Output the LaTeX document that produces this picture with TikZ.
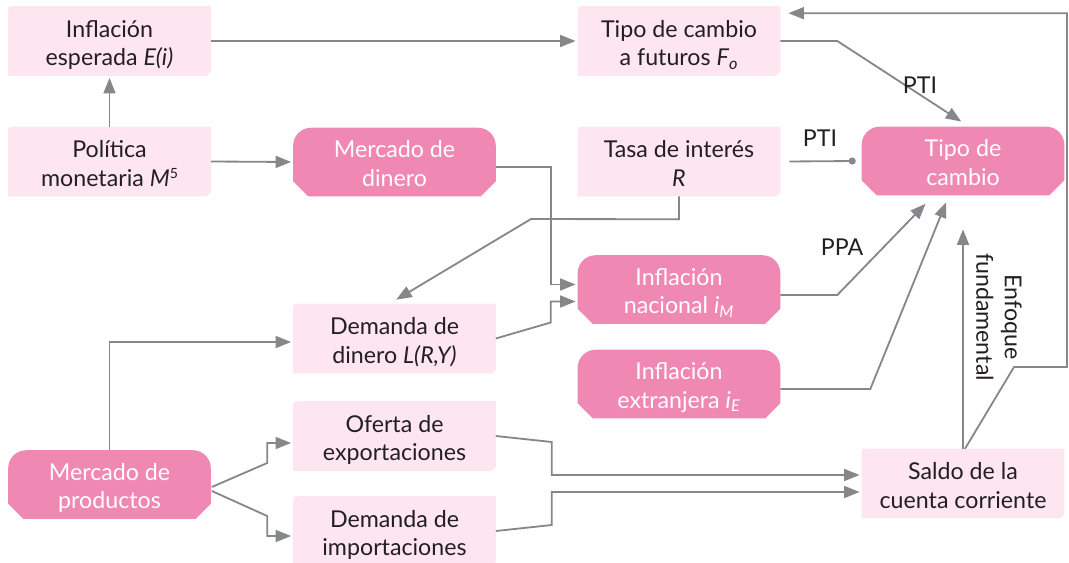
\documentclass[tikz,border=0pt]{standalone}
\usepackage{fontspec}
\setmainfont{Lato}
\usetikzlibrary{arrows.meta,calc,backgrounds}
\definecolor{lfill}{HTML}{FDE6EF}
\definecolor{dfill}{HTML}{F088B4}
\definecolor{lgray}{HTML}{86878A}
\definecolor{txt}{HTML}{231F20}
\newcommand\fsz{\fontsize{16.5}{20.3}\selectfont}
\newcommand\twol[3]{\raisebox{#1}[\height][\depth]{\begin{tabular}{@{}c@{}}#2\\#3\end{tabular}}}
\newcommand\supf{\raisebox{5.5pt}{\fontsize{10}{10}\selectfont 5}}
\newcommand\lightshape[1]{\fill[lfill] (#1.south west) -- ($(#1.north west)+(0,6)$) .. controls (#1.north west) .. ($(#1.north west)+(6,0)$) -- (#1.north east) -- ($(#1.south east)+(0,-4)$) -- ($(#1.south east)+(-4,0)$) -- cycle;}
\newcommand\darkshape[1]{\fill[dfill] ($(#1.south west)+(15,0)$) -- ($(#1.south west)+(0,-15)$) -- ($(#1.north west)+(0,18)$) .. controls ($(#1.north west)+(0,8)$) and ($(#1.north west)+(8,0)$) .. ($(#1.north west)+(18,0)$) -- ($(#1.north east)+(-18,0)$) .. controls ($(#1.north east)+(-8,0)$) and ($(#1.north east)+(0,8)$) .. ($(#1.north east)+(0,18)$) -- ($(#1.south east)+(0,-15)$) -- ($(#1.south east)+(-15,0)$) -- cycle;}
\tikzset{
  lbox/.style={rectangle, inner sep=0pt, minimum width=5.05cm, minimum height=1.725cm, text=txt, font=\fsz},
  dbox/.style={rectangle, inner sep=0pt, minimum width=5.05cm, minimum height=1.7cm, text=white, font=\fsz},
  lbl/.style={text=txt, font=\fsz, inner sep=0pt, align=center},
  arr/.style={draw=lgray, line width=1.3pt, -{Triangle[length=11pt,width=8.5pt]}, shorten >=1.5pt},
  dotline/.style={draw=lgray, line width=1.3pt, -{Circle[length=5pt]}},
}
\begin{document}
\begin{tikzpicture}[x=0.025cm,y=-0.025cm]
\useasboundingbox (0,0) rectangle (1069,563);
% light boxes
\node[lbox] (infl) at (109.5,41) {\twol{-3.4pt}{Inflación}{esperada \textit{E(i)}}};
\node[lbox] (pol) at (109.5,161.5) {\twol{-3.4pt}{Política}{monetaria \textit{M}\supf}};
\node[lbox] (fut) at (679,41) {\twol{-3.4pt}{Tipo de cambio}{a futuros \textit{F}\textsubscript{\textit{o}}}};
\node[lbox] (tasa) at (679,161.5) {\twol{-3.4pt}{Tasa de interés}{\textit{R}}};
\node[lbox] (dem) at (394.5,338.5) {\twol{-3.4pt}{Demanda de}{dinero \textit{L(R,Y)}}};
\node[lbox] (ofe) at (394.5,436) {\twol{-3.4pt}{Oferta de}{exportaciones}};
\node[lbox] (imp) at (394.5,531) {\twol{-3.4pt}{Demanda de}{importaciones}};
\node[lbox] (saldo) at (963,483.5) {\twol{-3.4pt}{Saldo de la}{cuenta corriente}};
% dark boxes
\node[dbox] (mdin) at (394.5,162) {\twol{-3pt}{Mercado de}{dinero}};
\node[dbox] (tipo) at (963,161) {\twol{-3pt}{Tipo de}{cambio}};
\node[dbox] (nac) at (679,289.5) {\twol{-3pt}{Inflación}{nacional \textit{i}\textsubscript{\textit{M}}}};
\node[dbox] (ext) at (679,384) {\twol{-3pt}{Inflación}{extranjera \textit{i}\textsubscript{\textit{E}}}};
\node[dbox] (mprod) at (109.5,484.5) {\twol{-3pt}{Mercado de}{productos}};
\begin{pgfonlayer}{background}
\lightshape{infl}\lightshape{pol}\lightshape{fut}\lightshape{tasa}
\lightshape{dem}\lightshape{ofe}\lightshape{imp}\lightshape{saldo}
\darkshape{mdin}\darkshape{tipo}\darkshape{nac}\darkshape{ext}\darkshape{mprod}
\end{pgfonlayer}
% connectors
\draw[arr] (pol.north) -- (infl.south);
\draw[arr] (infl.east) -- (fut.west);
\draw[arr] (pol.east) -- (mdin.west);
\draw[arr] (fut.east) -- ++(57,0) -- ($(tipo.north)+(0,-4)$);
\node[lbl] (pti1) at (920,85) {PTI};
\draw[dotline] ($(tasa.east)+(9,0)$) -- ($(tipo.west)+(-6,0)$);
\node[lbl] (pti2) at (820,138) {PTI};
\draw[arr] (tasa.south) -- ++(0,23) -- (531,219) -- ($(dem.north)+(0,-3)$);
\draw[arr] ($(mdin.east)+(0,5)$) -| ($(nac.west)+(-27,-5)$) -- ($(nac.west)+(0,-5)$);
\draw[arr] (dem.east) -- ($(nac.west)+(-27,33)$) -- ($(nac.west)+(-27,12)$) -- ($(nac.west)+(0,12)$);
\draw[arr] ($(nac.east)+(0,5.5)$) -- ++(57,0) -- ($(tipo.south)+(-36,7)$);
\node[lbl] (ppa) at (842,247) {PPA};
\draw[arr] ($(ext.east)+(0,5)$) -- ++(90,0) -- ($(tipo.south)+(-16,5)$);
\draw[arr] (saldo.north) -- ($(tipo.south)+(0,32)$);
\node[lbl, rotate=-90] (enf) at (999,317) {Enfoque\\fundamental};
\draw[arr] ($(saldo.north)+(2,0)$) -- (1014,367) -- (1067,367) |- ($(fut.north east)+(6,7)$);
\draw[arr] (mprod.north) |- ($(dem.west)+(0,3.5)$);
\draw[arr] ($(mprod.east)+(1,2.5)$) -- ($(ofe.west)+(-26,27)$) -- ($(ofe.west)+(-26,7)$) -- ($(ofe.west)+(0,7)$);
\draw[arr] ($(mprod.east)+(1,6.5)$) -- ($(imp.west)+(-26,-15)$) -- ($(imp.west)+(-26,5)$) -- ($(imp.west)+(0,5)$);
\draw[arr] (ofe.east) -- ++(56,6) |- ($(saldo.west)+(0,-8.5)$);
\draw[arr] (imp.east) -- ++(56,-6) |- ($(saldo.west)+(0,8.5)$);
\end{tikzpicture}
\end{document}
